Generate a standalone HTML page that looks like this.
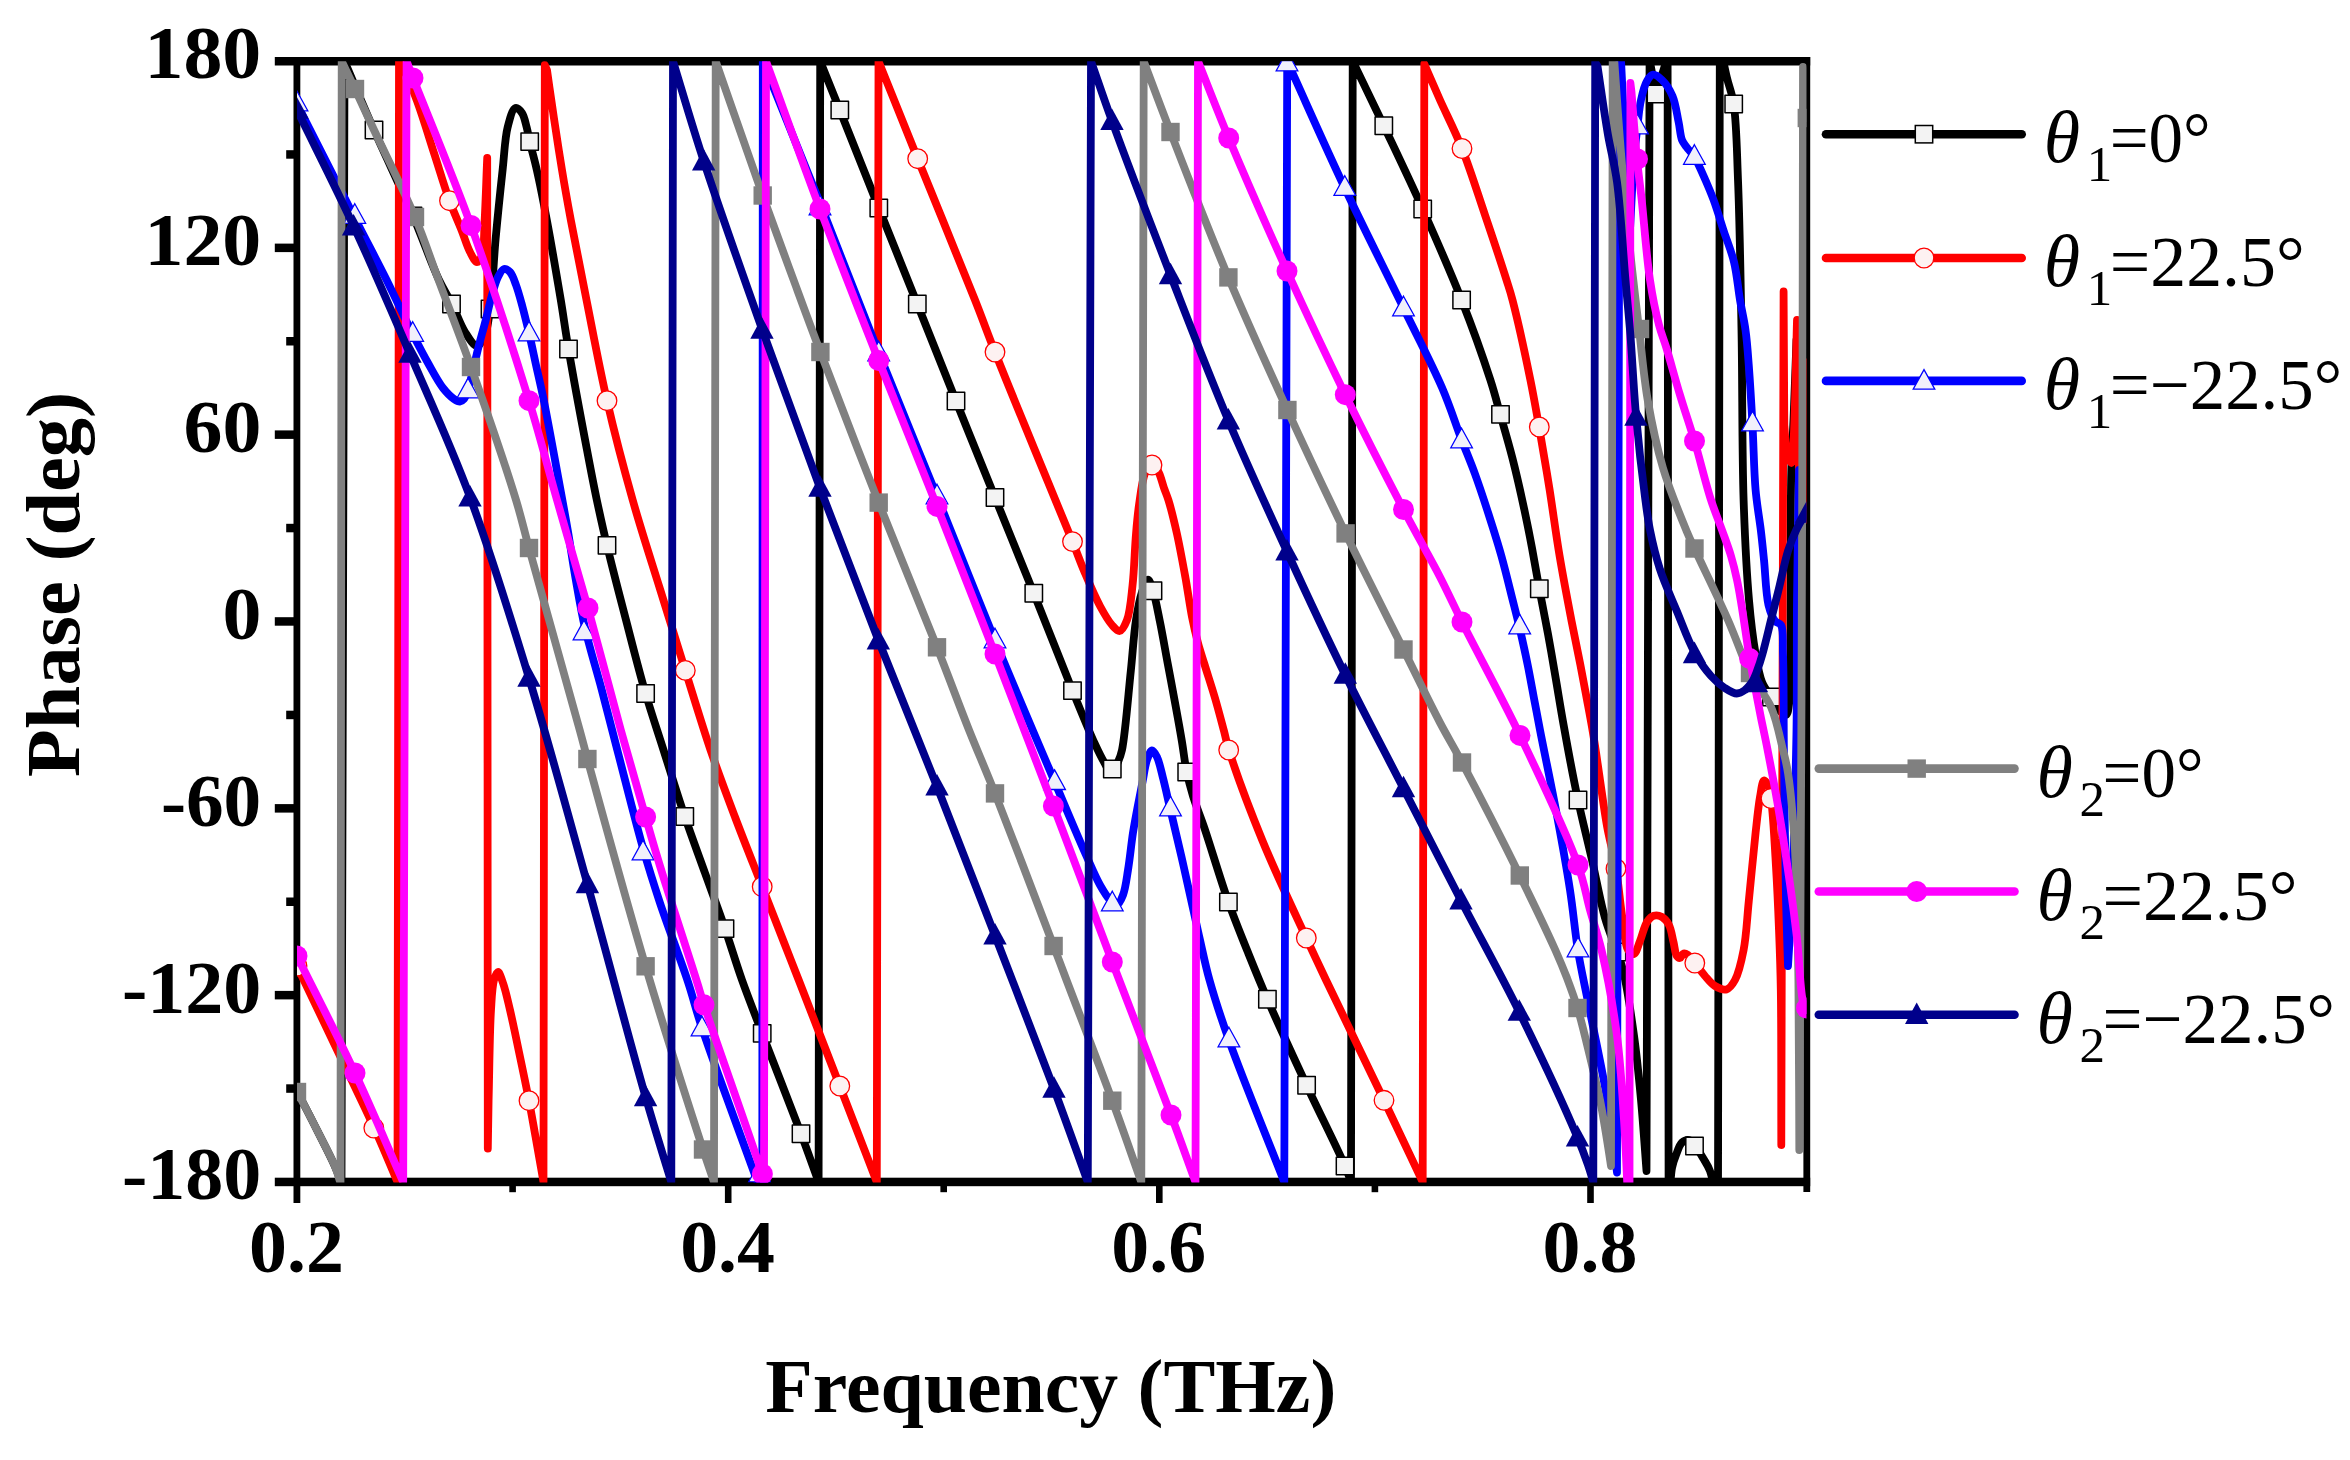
<!DOCTYPE html>
<html lang="en"><head><meta charset="utf-8"><title>Phase (deg) versus Frequency (THz)</title>
<style>html,body{margin:0;padding:0;background:#fff}body{width:2350px;height:1460px;overflow:hidden}svg{display:block}text{font-family:"Liberation Serif","DejaVu Serif",serif;fill:#000}.tk{font-weight:bold;font-size:74px}.ti{font-weight:bold;font-size:77px}.lg{font-size:72px}.th{font-style:italic;font-size:74px}.sb{font-size:51px}</style></head><body>
<svg width="2350" height="1460" viewBox="0 0 2350 1460">
<rect width="2350" height="1460" fill="#fff"/>
<defs><clipPath id="pc"><rect x="297" y="61.2" width="1509.5" height="1121.4"/></clipPath></defs>
<g fill="#000">
<rect x="274.8" y="57" width="1535.4" height="8.5"/>
<rect x="274.8" y="1177.7" width="1535.4" height="8.5"/>
<rect x="293.5" y="57" width="6.8" height="1146"/>
<rect x="1803.4" y="57" width="6.8" height="1135"/>
<rect x="286.2" y="150.2" width="11" height="8.5"/>
<rect x="274.8" y="243.6" width="22" height="8.5"/>
<rect x="286.2" y="337" width="11" height="8.5"/>
<rect x="274.8" y="430.4" width="22" height="8.5"/>
<rect x="286.2" y="523.8" width="11" height="8.5"/>
<rect x="274.8" y="617.2" width="22" height="8.5"/>
<rect x="286.2" y="710.7" width="11" height="8.5"/>
<rect x="274.8" y="804.1" width="22" height="8.5"/>
<rect x="286.2" y="897.5" width="11" height="8.5"/>
<rect x="274.8" y="990.9" width="22" height="8.5"/>
<rect x="286.2" y="1084.3" width="11" height="8.5"/>
<rect x="509.3" y="1182" width="6.6" height="10.2"/>
<rect x="724.9" y="1182" width="6.6" height="21"/>
<rect x="940.4" y="1182" width="6.6" height="10.2"/>
<rect x="1156" y="1182" width="6.6" height="21"/>
<rect x="1371.6" y="1182" width="6.6" height="10.2"/>
<rect x="1587.2" y="1182" width="6.6" height="21"/>
</g>
<g class="tk" text-anchor="end">
<text x="261.3" y="78.4" textLength="116.8" lengthAdjust="spacingAndGlyphs">180</text>
<text x="261.3" y="265.2" textLength="116.8" lengthAdjust="spacingAndGlyphs">120</text>
<text x="261.3" y="452.1" textLength="77.8" lengthAdjust="spacingAndGlyphs">60</text>
<text x="261.3" y="638.9" textLength="38.9" lengthAdjust="spacingAndGlyphs">0</text>
<text x="261.3" y="825.7" textLength="100.4" lengthAdjust="spacingAndGlyphs">-60</text>
<text x="261.3" y="1012.6" textLength="139.3" lengthAdjust="spacingAndGlyphs">-120</text>
<text x="261.3" y="1199.4" textLength="139.3" lengthAdjust="spacingAndGlyphs">-180</text>
</g>
<g class="tk" text-anchor="middle">
<text x="296.4" y="1272" textLength="94.8" lengthAdjust="spacingAndGlyphs">0.2</text>
<text x="727.6" y="1272" textLength="94.8" lengthAdjust="spacingAndGlyphs">0.4</text>
<text x="1158.7" y="1272" textLength="94.8" lengthAdjust="spacingAndGlyphs">0.6</text>
<text x="1589.9" y="1272" textLength="94.8" lengthAdjust="spacingAndGlyphs">0.8</text>
</g>
<text class="ti" text-anchor="middle" x="1050.8" y="1412" textLength="571" lengthAdjust="spacingAndGlyphs">Frequency (THz)</text>
<text class="ti" text-anchor="middle" transform="translate(79 584.5) rotate(-90)" textLength="385" lengthAdjust="spacingAndGlyphs">Phase (deg)</text>
<g clip-path="url(#pc)" fill="none" stroke-linejoin="round" stroke-linecap="round">
<path d="M297 1092C298.3 1094.3 299.3 1095.8 301 1099C304.8 1105.9 312.4 1120.9 318 1132C323.6 1143.1 330.4 1156.2 334.6 1165.6C337.6 1172.3 339.2 1177.2 341.5 1183L344.5 61.2C354.3 84.1 363.3 105.8 374 130C386 157.1 401.5 189.3 413 216C422.8 238.8 431.4 264 439 280C443.8 290.1 447.8 295.6 452 304C456.5 312.9 460.2 324.5 465 332C468.7 337.8 473.5 346.1 477 346C480 345.9 482.9 339.7 485 335C487.9 328.4 488.5 319.8 490 309C492.4 291.2 493.6 261.4 495.7 238C497.8 215.1 500.4 190.1 502.6 170C504.4 154 504.8 138.3 507.7 127C509.7 119.2 512.3 108.9 515.4 108C517.4 107.5 520.3 110.5 522 113C524.3 116.3 525.3 122.2 526.6 127C527.9 131.8 528.4 135.9 529.7 141.6C531.5 149.5 534.4 159.1 536.8 170C540.1 184.5 543.5 202.1 547 221C551.4 244.4 556.9 276.8 560.8 300C563.8 318.3 565.2 329.8 568.5 349C573.2 376.7 581.7 422.2 587 450C590.7 469.6 593.4 483.8 596.8 500C600.1 515.5 602.9 528.4 607 545.4C612.2 567.2 619.5 595.2 626 620C632.4 644.6 638.9 670.7 645.6 693.5C651.5 713.6 657.3 730.4 663.5 750C670.3 771.3 677.6 795.3 684.8 816.5C691.5 836.2 698.3 854.2 705 873C711.7 891.6 718.7 910.4 725 928.6C731 946 735.9 962.8 742 980C748.3 997.7 754.3 1012.8 762.2 1033.4C773 1061.6 790.7 1106.3 801 1133.7C808.1 1152.7 812.7 1165.9 818.6 1182L820.2 61.2C826.7 77.5 832.2 90.9 839.8 110C850.6 137 865.8 175.5 878.8 208C891.7 240.2 904.5 271.9 917.3 304C930.2 336.2 943 368.7 956 401C968.9 433.2 982 465.4 995 497.5C1007.9 529.5 1020.9 561.2 1033.8 593.3C1046.8 625.6 1061.3 663.1 1072.5 690.6C1080.8 711 1088.8 730.7 1094.8 743.7C1098.4 751.5 1100.9 756.8 1104 762C1106.5 766.2 1109.1 773.1 1111.5 773C1113.8 772.9 1116.2 765.8 1118 762C1119.7 758.2 1120.7 755.9 1122 750C1125.2 735.3 1128.3 694.5 1130.8 671C1132.8 652.2 1133.7 634.4 1136 620C1137.7 609.2 1139.5 599.3 1142 592C1143.7 586.9 1146 579.6 1147.9 579.6C1149.7 579.6 1151.4 586 1153 590.7C1155.6 598.4 1157.7 610.7 1160 622C1162.7 635.2 1165.3 650.7 1168 665C1170.7 679.3 1173.6 694.5 1176 708C1178.2 720 1180.2 731 1182 742C1183.7 752.3 1184.7 762.6 1186.7 772C1188.5 780.5 1190.4 787.5 1193 796C1196.1 806 1200 815.1 1204.4 828C1211 847.5 1220.6 880.1 1228.4 902C1234.7 919.8 1240.6 933.9 1247 950C1253.6 966.4 1259.3 980.7 1267.4 999.3C1278.2 1024.1 1293.5 1057.1 1306.6 1085.3C1319.4 1112.7 1337.9 1149.3 1345 1166C1348.1 1173.3 1349 1176.7 1351 1182L1352.7 61.2C1363.1 82.7 1372.9 102.8 1383.8 125.7C1396.1 151.7 1410 180.5 1422.7 209C1435.9 238.6 1450 270.5 1461.6 300C1472.4 327.4 1483.5 358.7 1490.4 380C1494.9 393.8 1496.9 402.4 1500.3 414.6C1504.2 428.2 1508.5 442.8 1512.4 458C1516.6 474.5 1521 494 1524.4 510C1527.3 523.6 1529.6 535.1 1532 548C1534.5 561.3 1536.7 574.9 1539.3 588.8C1542 603.5 1545.2 618.9 1548 634C1550.8 649.3 1553.4 664.7 1556 680C1558.6 695.3 1560.7 708.9 1563.8 726C1567.7 747.8 1573 776.7 1578 800C1582.5 821.1 1587.5 840.2 1592 860C1596.5 879.5 1600.2 901.4 1605 918C1608.7 931 1613.7 942.4 1617 952C1619.4 958.9 1621 962 1623 970C1626.7 984.9 1631 1013.8 1634 1035.6C1637 1057.1 1639 1078 1641 1100C1643.1 1123.1 1644.7 1147.3 1646.5 1171L1649.6 50L1650 62L1656 94L1666 62L1667.6 50L1668.6 1200L1669.5 1200C1670.3 1189.3 1670.4 1176.2 1672 1168C1673 1162.6 1674.3 1159.2 1676 1155C1677.7 1150.7 1679.3 1144.9 1682 1142.5C1684 1140.7 1686.9 1139.6 1689 1140C1691.1 1140.4 1692.6 1142.8 1694.5 1145C1697.2 1148.2 1700.4 1153.6 1703 1158C1705.5 1162.3 1708 1165.6 1710 1171C1712.8 1178.6 1714.3 1190.3 1716.5 1200L1718 1200L1719.8 50L1721 50C1723 59.3 1724.8 68.9 1727 78C1729.1 86.8 1732 93 1733.7 104C1736.6 122.6 1736.8 150.4 1738 180C1739.7 221.6 1740.6 278.4 1741.5 330C1742.5 384.9 1742 450.8 1743.6 500C1744.9 537.7 1746.5 571.8 1749 600C1750.8 620.8 1753 639 1755.6 654C1757.5 664.9 1758.9 674.3 1762 682C1764.4 688 1768 692.1 1771 697C1774 701.8 1777 707.9 1780 711C1782 713 1784.5 715.6 1786 715C1788.2 714.1 1788.6 707.3 1789.5 700C1791.7 681.5 1790.2 635.5 1790.5 600C1790.8 559.5 1790.5 503.2 1791.3 470C1791.8 449.4 1792.7 438.6 1793.5 420C1794.5 396.5 1795.5 366.7 1796.5 340" stroke="#000000" stroke-width="7.8"/>
<rect x="365.3" y="121.3" width="17.4" height="17.4" fill="#f3f3f3" stroke="#000000" stroke-width="1.5"/>
<rect x="404.3" y="207.3" width="17.4" height="17.4" fill="#f3f3f3" stroke="#000000" stroke-width="1.5"/>
<rect x="442.8" y="295.3" width="17.4" height="17.4" fill="#f3f3f3" stroke="#000000" stroke-width="1.5"/>
<rect x="481.3" y="300.3" width="17.4" height="17.4" fill="#f3f3f3" stroke="#000000" stroke-width="1.5"/>
<rect x="521" y="132.9" width="17.4" height="17.4" fill="#f3f3f3" stroke="#000000" stroke-width="1.5"/>
<rect x="559.8" y="340.3" width="17.4" height="17.4" fill="#f3f3f3" stroke="#000000" stroke-width="1.5"/>
<rect x="598.3" y="536.7" width="17.4" height="17.4" fill="#f3f3f3" stroke="#000000" stroke-width="1.5"/>
<rect x="636.9" y="684.8" width="17.4" height="17.4" fill="#f3f3f3" stroke="#000000" stroke-width="1.5"/>
<rect x="676.1" y="807.8" width="17.4" height="17.4" fill="#f3f3f3" stroke="#000000" stroke-width="1.5"/>
<rect x="716.3" y="919.9" width="17.4" height="17.4" fill="#f3f3f3" stroke="#000000" stroke-width="1.5"/>
<rect x="753.5" y="1024.7" width="17.4" height="17.4" fill="#f3f3f3" stroke="#000000" stroke-width="1.5"/>
<rect x="792.3" y="1125" width="17.4" height="17.4" fill="#f3f3f3" stroke="#000000" stroke-width="1.5"/>
<rect x="831.1" y="101.3" width="17.4" height="17.4" fill="#f3f3f3" stroke="#000000" stroke-width="1.5"/>
<rect x="870.1" y="199.3" width="17.4" height="17.4" fill="#f3f3f3" stroke="#000000" stroke-width="1.5"/>
<rect x="908.6" y="295.3" width="17.4" height="17.4" fill="#f3f3f3" stroke="#000000" stroke-width="1.5"/>
<rect x="947.3" y="392.3" width="17.4" height="17.4" fill="#f3f3f3" stroke="#000000" stroke-width="1.5"/>
<rect x="986.3" y="488.8" width="17.4" height="17.4" fill="#f3f3f3" stroke="#000000" stroke-width="1.5"/>
<rect x="1025.1" y="584.6" width="17.4" height="17.4" fill="#f3f3f3" stroke="#000000" stroke-width="1.5"/>
<rect x="1063.8" y="681.9" width="17.4" height="17.4" fill="#f3f3f3" stroke="#000000" stroke-width="1.5"/>
<rect x="1103.6" y="760.3" width="17.4" height="17.4" fill="#f3f3f3" stroke="#000000" stroke-width="1.5"/>
<rect x="1144.3" y="582" width="17.4" height="17.4" fill="#f3f3f3" stroke="#000000" stroke-width="1.5"/>
<rect x="1178" y="763.3" width="17.4" height="17.4" fill="#f3f3f3" stroke="#000000" stroke-width="1.5"/>
<rect x="1219.7" y="893.3" width="17.4" height="17.4" fill="#f3f3f3" stroke="#000000" stroke-width="1.5"/>
<rect x="1258.7" y="990.6" width="17.4" height="17.4" fill="#f3f3f3" stroke="#000000" stroke-width="1.5"/>
<rect x="1297.9" y="1076.6" width="17.4" height="17.4" fill="#f3f3f3" stroke="#000000" stroke-width="1.5"/>
<rect x="1336.3" y="1157.3" width="17.4" height="17.4" fill="#f3f3f3" stroke="#000000" stroke-width="1.5"/>
<rect x="1375.1" y="117" width="17.4" height="17.4" fill="#f3f3f3" stroke="#000000" stroke-width="1.5"/>
<rect x="1414" y="200.3" width="17.4" height="17.4" fill="#f3f3f3" stroke="#000000" stroke-width="1.5"/>
<rect x="1452.9" y="291.3" width="17.4" height="17.4" fill="#f3f3f3" stroke="#000000" stroke-width="1.5"/>
<rect x="1491.8" y="405.7" width="17.4" height="17.4" fill="#f3f3f3" stroke="#000000" stroke-width="1.5"/>
<rect x="1530.6" y="580" width="17.4" height="17.4" fill="#f3f3f3" stroke="#000000" stroke-width="1.5"/>
<rect x="1569.3" y="791.3" width="17.4" height="17.4" fill="#f3f3f3" stroke="#000000" stroke-width="1.5"/>
<rect x="1608.3" y="943.3" width="17.4" height="17.4" fill="#f3f3f3" stroke="#000000" stroke-width="1.5"/>
<rect x="1647.3" y="85.3" width="17.4" height="17.4" fill="#f3f3f3" stroke="#000000" stroke-width="1.5"/>
<rect x="1685.8" y="1137.3" width="17.4" height="17.4" fill="#f3f3f3" stroke="#000000" stroke-width="1.5"/>
<rect x="1725" y="95.3" width="17.4" height="17.4" fill="#f3f3f3" stroke="#000000" stroke-width="1.5"/>
<rect x="1762.8" y="688.3" width="17.4" height="17.4" fill="#f3f3f3" stroke="#000000" stroke-width="1.5"/>
<path d="M297 966C309.7 992.5 322.3 1018.8 335 1045.5C347.9 1072.5 362.6 1102.4 373.8 1127C382.9 1147 389.6 1163.7 397.5 1182L399 61.2C400.3 63.1 401.5 64.1 403 67C406.5 73.5 412.3 88.4 417 101C422.7 116.4 428.5 136 434 153C439.3 169.2 444.4 186.8 449.5 200.7C453.5 211.7 457.9 220.9 461.5 230C464.6 237.8 466.9 246.2 470 252C472.2 256.1 474.8 262 477 262C478.8 262 480.7 258.8 482 255.5C484.6 248.7 483.8 234.2 484.6 221C485.6 203.1 486.3 179 487.2 158L487.8 1148.6L488.6 1100C489.4 1070 489.6 1031.9 491 1010C491.8 997.3 492.1 986.7 494 980C495.1 976.4 496.6 972 498 972C499.6 972 501.4 978.4 503 983C505.5 989.9 507.6 1000 510 1010C512.9 1022.4 516 1037.5 519 1052C522.3 1067.6 525.9 1084.8 529 1100.7C531.9 1115.8 534.5 1130.9 537 1145C539.3 1157.9 541.3 1169.7 543.5 1182L544.8 65L547 70C549.3 86.2 551.5 102.1 554 118.5C556.5 135.4 559.2 152.9 562 170C564.8 187.1 567.5 202.2 571 221C575.4 244.5 580.9 272.1 586.5 300C592.8 331.5 599.3 367.4 607 400.7C614.7 434 623.6 467.9 632.7 500C641.3 530.6 651 560 660 589C668.6 616.7 676.8 643.4 685.3 670.4C693.7 697.1 701.9 724.7 710.5 750C718.5 773.4 726.5 794.5 735 817C743.7 840.1 753.5 864.5 762.2 886.7C770.1 907 778.4 928 785 945C790.1 958.1 792.9 965.2 798.7 980C808.7 1005.8 826.5 1051.5 839.8 1086C852.5 1118.8 864.5 1150 876.8 1182L878.5 61.2C891.6 93.7 903.4 123.2 917.7 158.7C935 201.5 960.9 264.4 975 300C983.5 321.5 987.1 332.1 995 352C1005.7 379.2 1021 416.2 1034 448C1046.8 479.4 1063.4 518.9 1072.5 541.6C1077.7 554.5 1080.1 561.6 1084.5 572C1089.2 583.1 1094.8 596.5 1100 606C1104 613.4 1108.1 620.7 1112 625C1114.6 627.9 1117.3 631.4 1119.6 631C1122.3 630.6 1125 625 1127 620C1130.2 611.9 1131.1 598.3 1132.5 585.6C1134.3 570.2 1134.7 548.7 1136 534C1136.9 522.9 1137.6 514.9 1139 505C1140.5 494.6 1142 480.7 1145 473C1146.9 468.1 1149.7 462 1152 462C1154.3 462 1157.1 468.9 1159 473C1161.1 477.5 1162.4 483.3 1164 488C1165.5 492.2 1166.8 494.9 1168.4 500C1171 508.4 1174.3 521.9 1177 534C1180 547.7 1182.9 563.8 1185.5 578C1187.9 591.4 1189.7 605.3 1192 617C1193.9 626.6 1195.8 634.8 1198 643C1200 650.4 1202 656.2 1204.4 664C1207.4 673.8 1211.4 685.9 1214.7 697C1218 708.2 1221.4 721.3 1224 731C1225.9 738.2 1226.2 741.4 1228.9 750C1234.9 769.1 1250.1 810.4 1262.6 841C1275.7 873 1294.5 912.4 1306.3 938C1314.1 954.9 1317.6 962.4 1326 980C1340.2 1009.8 1366.7 1064 1384 1100.3C1398.3 1130.1 1409.8 1154.8 1422.7 1182L1424.3 64L1426 68C1430.7 78.7 1434.8 88.2 1440 100C1446.5 114.5 1455 130.9 1462 148.5C1470.1 168.8 1477.5 192.9 1485 215C1492.4 236.8 1501.6 264.5 1506.5 280C1509.2 288.6 1510.2 291.1 1512.5 300C1517.1 317.7 1525.7 356.8 1530.4 380C1534 397.7 1536.1 410.2 1539.1 427C1542.5 446.4 1546.2 468.5 1549.6 489.6C1553 511.2 1555.8 533.5 1559.5 555.4C1563.2 577.4 1567.8 601.5 1571.6 621.2C1574.7 637.3 1577.7 651.2 1580.4 665C1582.8 677.3 1584.9 688.5 1587 700C1589.1 711.2 1591 721 1593 733C1595.4 747.3 1597.7 764.4 1600 780C1602.3 795.4 1604.3 811 1607 826C1609.6 840.5 1613.5 854.1 1616 868.7C1618.6 883.8 1619.8 900.7 1622 915C1623.9 927.5 1624.3 944.3 1628 950C1629.7 952.6 1632.2 954.5 1634 954C1636.5 953.3 1638 945.8 1640 941C1642.4 935.3 1644.1 926.4 1647 922C1649 919.1 1651.1 916.6 1653.7 915.8C1656.2 915 1659.6 915.7 1662 917C1664.7 918.5 1667.2 921.6 1669 925C1671.3 929.4 1672.1 936.6 1673.5 942C1674.7 946.9 1675.1 953.6 1676.8 956C1677.7 957.3 1679 958.2 1680 958C1681.3 957.8 1682.3 953.9 1683.7 953.5C1685 953.1 1686.5 954 1688 955C1690.2 956.5 1692.3 960 1694.8 963C1697.9 966.8 1701.5 972 1705 976C1708.2 979.7 1711.2 983.8 1715 986C1718.5 988.1 1723.2 990.3 1726.5 989.4C1729.9 988.4 1732.6 984.4 1735 980C1738.8 973.1 1741.4 961.3 1743.6 950C1746.4 935.8 1747 918.7 1748.8 901C1750.9 880.1 1753.5 851.8 1755.6 832.7C1757.1 818.9 1758.3 806.6 1760 797C1761.2 790.4 1762.1 781 1764 780.5C1765.1 780.2 1766.9 782.9 1768 785C1769.6 788.2 1770.1 792.2 1771 798.5C1773.1 812.5 1774.7 844.6 1776 867C1777.3 888.4 1778.2 909.3 1779 930C1779.8 950.2 1780.4 965.3 1780.8 990C1781.5 1029.6 1781.1 1093.3 1781.3 1145L1783.6 291.4L1784.3 425C1785.2 434.3 1785.2 446.1 1787 453C1788.1 457.3 1790.3 463.2 1791.4 463C1793 462.7 1792.9 450.7 1793.6 440C1795.1 415.7 1795.9 360 1797 320L1800 560L1804.5 362L1808 520" stroke="#ff0000" stroke-width="7.8"/>
<circle cx="297" cy="966" r="9.8" fill="#fdf1f1" stroke="#ff0000" stroke-width="1.3"/>
<circle cx="373.8" cy="1128" r="9.8" fill="#fdf1f1" stroke="#ff0000" stroke-width="1.3"/>
<circle cx="449.5" cy="200.7" r="9.8" fill="#fdf1f1" stroke="#ff0000" stroke-width="1.3"/>
<circle cx="529" cy="1100.7" r="9.8" fill="#fdf1f1" stroke="#ff0000" stroke-width="1.3"/>
<circle cx="607" cy="400.7" r="9.8" fill="#fdf1f1" stroke="#ff0000" stroke-width="1.3"/>
<circle cx="685.3" cy="670.4" r="9.8" fill="#fdf1f1" stroke="#ff0000" stroke-width="1.3"/>
<circle cx="762.2" cy="886.7" r="9.8" fill="#fdf1f1" stroke="#ff0000" stroke-width="1.3"/>
<circle cx="839.8" cy="1086" r="9.8" fill="#fdf1f1" stroke="#ff0000" stroke-width="1.3"/>
<circle cx="917.7" cy="158.7" r="9.8" fill="#fdf1f1" stroke="#ff0000" stroke-width="1.3"/>
<circle cx="995" cy="352" r="9.8" fill="#fdf1f1" stroke="#ff0000" stroke-width="1.3"/>
<circle cx="1072.5" cy="541.6" r="9.8" fill="#fdf1f1" stroke="#ff0000" stroke-width="1.3"/>
<circle cx="1152" cy="465" r="9.8" fill="#fdf1f1" stroke="#ff0000" stroke-width="1.3"/>
<circle cx="1228.7" cy="750" r="9.8" fill="#fdf1f1" stroke="#ff0000" stroke-width="1.3"/>
<circle cx="1306.3" cy="938" r="9.8" fill="#fdf1f1" stroke="#ff0000" stroke-width="1.3"/>
<circle cx="1384" cy="1100.3" r="9.8" fill="#fdf1f1" stroke="#ff0000" stroke-width="1.3"/>
<circle cx="1462" cy="148.5" r="9.8" fill="#fdf1f1" stroke="#ff0000" stroke-width="1.3"/>
<circle cx="1539.3" cy="427" r="9.8" fill="#fdf1f1" stroke="#ff0000" stroke-width="1.3"/>
<circle cx="1616" cy="868.7" r="9.8" fill="#fdf1f1" stroke="#ff0000" stroke-width="1.3"/>
<circle cx="1694.8" cy="963" r="9.8" fill="#fdf1f1" stroke="#ff0000" stroke-width="1.3"/>
<circle cx="1771" cy="798.5" r="9.8" fill="#fdf1f1" stroke="#ff0000" stroke-width="1.3"/>
<path d="M297 104C316.3 142 338.4 185.8 354.8 218C366.9 241.8 376.6 260 386.6 280C395.8 298.6 405 318.8 412.7 334C418.4 345.2 422.8 353.8 428 363C432.9 371.7 438 381.6 443 388C446.7 392.7 450.7 396.7 454 399C456.1 400.5 458.2 401.7 460 401.6C461.5 401.5 462.8 400.4 464 399C465.7 397 466.7 393.7 468 390C469.8 384.7 471.3 377 473 370C474.9 362.1 476.9 353.2 479 345C481.1 336.9 483.4 329.2 485.5 321C487.7 312.5 489.7 302.8 492 295C493.9 288.4 495.6 281.7 498 277C499.8 273.6 501.8 269.5 504 269C505.8 268.6 508.3 270.2 510 272C512.5 274.6 514.2 280.1 516 285C518.2 290.9 520 297.7 522 305C524.3 313.5 526.7 323.3 529 333C531.4 343.3 533.6 354.1 536 365C538.5 376.4 541 386.7 543.7 400C547.2 417.3 551.2 439.2 555 460C559.1 482.4 564.1 508.8 567.7 530C570.7 547.5 572.7 561.9 575.5 578C578.4 594.5 581 610.5 585 628C589.5 647.6 596.4 669.5 601.8 690C607.1 710.1 611.4 727.5 617.3 750C624.9 779.1 635.5 822 643.5 850C649.4 870.5 653.6 883.6 660 903C667.9 926.8 680.5 959.1 688 982C693.7 999.3 695.4 1008.3 702 1028C714.1 1064.4 739 1130.7 757.5 1182L762.3 1182L762.8 61.2C781.9 108.5 800.9 155 820 203C839.6 252.2 859 303.4 878.7 352.7C898 401.1 917.6 448.4 937 496.3C956.4 544.3 975.3 592.7 995 640.4C1014.5 687.8 1037.8 742.2 1054.6 781.6C1066.7 810.1 1077.5 836 1086 855C1091.5 867.3 1095.4 876.9 1100 885C1103.4 891 1106.6 896.6 1110 900C1112.3 902.3 1115 905.1 1117 904.7C1119.4 904.2 1121.4 899.2 1123 895C1125.5 888.8 1126.5 879.2 1128 870C1129.9 858.8 1131.2 844.2 1133 832.7C1134.6 822.8 1136.3 813.9 1138 805C1139.6 796.7 1141.2 788.7 1142.7 781C1144.1 773.8 1145 765.5 1147 760C1148.4 756.1 1150.2 750.7 1152 750.5C1153.6 750.4 1155.5 754 1157 757C1159.4 761.9 1161 770.2 1163 778C1165.5 787.5 1167.6 797.8 1170.5 810C1174.3 826.3 1179.3 847.1 1183.8 867C1188.8 888.8 1194.3 915.1 1199 935.5C1202.8 951.9 1205.1 964.2 1209.5 980C1214.7 998.6 1220.3 1015.9 1228.9 1040C1242.2 1077.5 1265.8 1134.7 1284.3 1182L1287.2 61.2C1306.4 103.5 1325.2 146.5 1344.8 188C1364 228.7 1386 272 1403.5 308C1417.8 337.3 1431.9 364 1442.2 388C1450.3 406.8 1455.6 424.1 1461.5 439.5C1466.4 452.2 1470.7 462.1 1475 474C1479.6 486.6 1483.9 499.7 1488.2 513C1492.7 527 1497.4 541.6 1501.4 556C1505.4 570.3 1509.2 586.2 1512.4 599C1515 609.3 1517 616.9 1519.4 627C1522.1 638.7 1525.2 652.6 1527.7 665C1530.1 676.9 1532.2 688.8 1534.3 700C1536.3 710.4 1537.6 717.4 1540 730C1544.1 751.2 1551.9 788 1557 815.6C1561.8 841.2 1566.4 866.4 1570 890C1573.3 911.3 1574.9 931.7 1578 951C1580.9 968.5 1584.1 982.1 1587.8 1001C1592.7 1025.8 1600.6 1061.7 1605 1087C1608.5 1106.7 1610.9 1124.5 1613 1140C1614.7 1152.2 1615.7 1161.7 1617 1172.6L1619.5 50L1620.5 50C1622 80.7 1623.6 111.7 1625 142C1626.4 171.7 1627.7 200.7 1629 230L1630 230C1631.3 206.7 1632.5 179.2 1634 160C1635.1 146.6 1636.2 136.6 1637.5 126C1638.6 116.7 1639.2 107.9 1641 100C1642.5 93.1 1644.4 85.4 1647 81C1648.7 78.1 1650.6 75 1653 74.7C1655.6 74.3 1659.2 77.3 1662 80C1665.8 83.6 1669.8 89.7 1672.5 96C1675.7 103.4 1676.9 114.1 1678.6 122C1680 128.5 1680.2 135.5 1682 140C1683.2 143 1684.7 144.5 1686.5 147C1688.7 150.1 1691.8 152.8 1694.4 157C1698.1 162.9 1702.1 172.6 1705.4 180C1708.4 186.9 1710.8 192.5 1713.6 200C1717 209.2 1720.5 221 1723.9 231.4C1727.3 241.7 1731.4 251.1 1734 262C1736.9 273.9 1738 288.1 1740 300C1741.8 310.6 1744.1 319.5 1745.5 330C1747.1 341.3 1747.8 352.2 1748.8 365.6C1750.1 382.9 1751.4 404.7 1752.5 425C1753.7 446.2 1753.9 471 1755.6 490C1756.9 505 1759.3 517.6 1760.8 530C1762.1 540.7 1762.9 549 1764 560C1765.4 573.5 1765.8 593.9 1768.5 605C1770.2 611.8 1772.3 617.7 1775 621C1776.8 623.2 1779.6 622.5 1781 625C1783.9 630 1782.5 641.5 1783 654C1783.9 676.7 1783.5 714.4 1783.9 750C1784.4 794.4 1785.1 860.1 1786 900C1786.6 926.5 1787.3 944 1788 966L1792 900C1793.5 843.3 1795.7 782.9 1796.5 730C1797.2 683.8 1796.6 643.3 1797 600C1797.4 556.7 1798.3 513.3 1799 470" stroke="#0000ff" stroke-width="7.8"/>
<polygon points="297,91.2 307.8,110.8 286.2,110.8" fill="#f1f0fb" stroke="#0000ff" stroke-width="1.3" stroke-linejoin="miter"/>
<polygon points="354.8,203.7 365.6,223.3 344,223.3" fill="#f1f0fb" stroke="#0000ff" stroke-width="1.3" stroke-linejoin="miter"/>
<polygon points="412.7,321.7 423.5,341.3 401.9,341.3" fill="#f1f0fb" stroke="#0000ff" stroke-width="1.3" stroke-linejoin="miter"/>
<polygon points="468,378.2 478.8,397.8 457.2,397.8" fill="#f1f0fb" stroke="#0000ff" stroke-width="1.3" stroke-linejoin="miter"/>
<polygon points="529,321.2 539.8,340.8 518.2,340.8" fill="#f1f0fb" stroke="#0000ff" stroke-width="1.3" stroke-linejoin="miter"/>
<polygon points="584,620.2 594.8,639.8 573.2,639.8" fill="#f1f0fb" stroke="#0000ff" stroke-width="1.3" stroke-linejoin="miter"/>
<polygon points="643,840.2 653.8,859.8 632.2,859.8" fill="#f1f0fb" stroke="#0000ff" stroke-width="1.3" stroke-linejoin="miter"/>
<polygon points="702,1016.2 712.8,1035.8 691.2,1035.8" fill="#f1f0fb" stroke="#0000ff" stroke-width="1.3" stroke-linejoin="miter"/>
<polygon points="759.5,1162.2 770.3,1181.8 748.7,1181.8" fill="#f1f0fb" stroke="#0000ff" stroke-width="1.3" stroke-linejoin="miter"/>
<polygon points="820,195.2 830.8,214.8 809.2,214.8" fill="#f1f0fb" stroke="#0000ff" stroke-width="1.3" stroke-linejoin="miter"/>
<polygon points="878.7,341.2 889.5,360.8 867.9,360.8" fill="#f1f0fb" stroke="#0000ff" stroke-width="1.3" stroke-linejoin="miter"/>
<polygon points="937,484.2 947.8,503.8 926.2,503.8" fill="#f1f0fb" stroke="#0000ff" stroke-width="1.3" stroke-linejoin="miter"/>
<polygon points="995,628.2 1005.8,647.8 984.2,647.8" fill="#f1f0fb" stroke="#0000ff" stroke-width="1.3" stroke-linejoin="miter"/>
<polygon points="1054.6,769.9 1065.4,789.5 1043.8,789.5" fill="#f1f0fb" stroke="#0000ff" stroke-width="1.3" stroke-linejoin="miter"/>
<polygon points="1112.3,891.2 1123.1,910.8 1101.5,910.8" fill="#f1f0fb" stroke="#0000ff" stroke-width="1.3" stroke-linejoin="miter"/>
<polygon points="1170.5,796.2 1181.3,815.8 1159.7,815.8" fill="#f1f0fb" stroke="#0000ff" stroke-width="1.3" stroke-linejoin="miter"/>
<polygon points="1228.9,1027.2 1239.7,1046.8 1218.1,1046.8" fill="#f1f0fb" stroke="#0000ff" stroke-width="1.3" stroke-linejoin="miter"/>
<polygon points="1287,51.2 1297.8,70.8 1276.2,70.8" fill="#f1f0fb" stroke="#0000ff" stroke-width="1.3" stroke-linejoin="miter"/>
<polygon points="1344.8,175.7 1355.6,195.3 1334,195.3" fill="#f1f0fb" stroke="#0000ff" stroke-width="1.3" stroke-linejoin="miter"/>
<polygon points="1403.5,296.2 1414.3,315.8 1392.7,315.8" fill="#f1f0fb" stroke="#0000ff" stroke-width="1.3" stroke-linejoin="miter"/>
<polygon points="1461.6,428.2 1472.4,447.8 1450.8,447.8" fill="#f1f0fb" stroke="#0000ff" stroke-width="1.3" stroke-linejoin="miter"/>
<polygon points="1519.7,614.2 1530.5,633.8 1508.9,633.8" fill="#f1f0fb" stroke="#0000ff" stroke-width="1.3" stroke-linejoin="miter"/>
<polygon points="1578,937.2 1588.8,956.8 1567.2,956.8" fill="#f1f0fb" stroke="#0000ff" stroke-width="1.3" stroke-linejoin="miter"/>
<polygon points="1637.5,114.2 1648.3,133.8 1626.7,133.8" fill="#f1f0fb" stroke="#0000ff" stroke-width="1.3" stroke-linejoin="miter"/>
<polygon points="1694.4,144.7 1705.2,164.3 1683.6,164.3" fill="#f1f0fb" stroke="#0000ff" stroke-width="1.3" stroke-linejoin="miter"/>
<polygon points="1752.5,411.2 1763.3,430.8 1741.7,430.8" fill="#f1f0fb" stroke="#0000ff" stroke-width="1.3" stroke-linejoin="miter"/>
<path d="M297 1092C298.3 1094.3 299.3 1095.8 301 1099C304.8 1105.9 312.4 1120.9 318 1132C323.6 1143.1 330.7 1156.1 334.6 1165.6C337.4 1172.2 338.5 1177.2 340.5 1183L341.7 61.2C346.1 70.5 350.2 78.8 355 89C360.8 101.3 366.4 113.8 374 130C385 153.6 403.7 190.1 415 217C424.5 239.5 430 257.3 438.5 280C448.5 306.7 459.6 334.8 471 367C485.1 406.5 505.8 466.6 516 500C522 519.9 523.2 526.9 529 548C540.3 589.2 570.3 695.4 579.7 730C583.5 743.8 583.6 744.9 587.4 759C597.7 796.6 625.8 899.5 645.6 966.3C664.3 1029.4 691.2 1113.3 703 1149.5C708 1164.8 710.3 1171.2 714 1182L715.7 61.2C731.4 106 748.5 155.9 762.7 195.5C774 227 783.6 253 793.6 280C802.8 305 809.6 323.7 820.4 352C836 393.1 859.1 453 878.7 502.6C898 551.4 920.6 605.7 937 647.3C949.4 678.6 958.8 704.3 969 730C978 752.6 984.8 767.6 995 793.4C1010.8 833.2 1041.4 914 1053.6 946C1059.2 960.6 1060.3 963.9 1065.7 978C1076.2 1005.7 1098.8 1063.9 1112.3 1100.7C1123.3 1130.5 1131.6 1154.9 1141.3 1182L1143.7 61.2C1152.6 84.8 1159.7 104.3 1170.5 132C1186 171.9 1208.5 230.2 1228.4 277.4C1247.5 322.8 1267.6 366.7 1287.4 410C1306.6 452 1326 493 1345.6 533.4C1364.7 572.8 1386.4 615.3 1403.5 649.5C1417.1 676.7 1429.2 702 1440 722.6C1448.1 738 1453.1 745.7 1462 762.5C1476.9 790.5 1503.1 841.6 1519.8 875.5C1533.3 902.8 1546.8 931 1555.3 950C1560.4 961.5 1563.3 968.5 1567 978C1570.7 987.8 1574 996.5 1577.5 1008C1582.1 1023.1 1587 1044.7 1591 1061C1594.4 1075 1597.3 1086.9 1600 1100C1602.7 1113.2 1605 1128.1 1607 1140C1608.6 1149.6 1609.7 1157.3 1611 1166L1612.7 50L1613.5 50C1616 84.2 1618.2 118.9 1621 152.7C1623.7 185.6 1626.8 219.3 1630 250C1632.9 277.7 1636 303.2 1639 328.8C1641.9 353.1 1643.7 376.6 1647.7 400C1651.7 423 1656.4 445.9 1663 468C1669.5 489.9 1681.1 517.7 1687 532C1690.1 539.4 1691.1 541.1 1694.5 548.5C1701.6 564 1718.9 599.1 1728 620C1735 636 1740.8 652.3 1745.3 662.7C1748 668.8 1749 671.5 1752 677C1756.5 685.3 1766 695.7 1771 707C1776.6 719.7 1780 737.9 1783 750C1785.2 758.8 1786.5 763 1788 773C1790.8 791.1 1793.3 821 1795 850C1797.2 887.7 1797.7 933.8 1798.4 980C1799.2 1032.9 1799 1093.3 1799.3 1150L1801.5 700C1801.8 600 1802.3 502.6 1802.5 400C1802.8 291.9 1802.8 178 1803 67L1806.5 118" stroke="#808080" stroke-width="7.8"/>
<rect x="287.8" y="1082.8" width="18.4" height="18.4" fill="#808080"/>
<rect x="345.8" y="79.8" width="18.4" height="18.4" fill="#808080"/>
<rect x="405.8" y="207.8" width="18.4" height="18.4" fill="#808080"/>
<rect x="461.8" y="357.8" width="18.4" height="18.4" fill="#808080"/>
<rect x="519.8" y="538.8" width="18.4" height="18.4" fill="#808080"/>
<rect x="578.2" y="749.8" width="18.4" height="18.4" fill="#808080"/>
<rect x="636.4" y="957.1" width="18.4" height="18.4" fill="#808080"/>
<rect x="693.8" y="1140.3" width="18.4" height="18.4" fill="#808080"/>
<rect x="753.5" y="186.3" width="18.4" height="18.4" fill="#808080"/>
<rect x="811.2" y="342.8" width="18.4" height="18.4" fill="#808080"/>
<rect x="869.5" y="493.4" width="18.4" height="18.4" fill="#808080"/>
<rect x="927.8" y="638.1" width="18.4" height="18.4" fill="#808080"/>
<rect x="985.8" y="784.2" width="18.4" height="18.4" fill="#808080"/>
<rect x="1044.4" y="936.8" width="18.4" height="18.4" fill="#808080"/>
<rect x="1103.1" y="1091.5" width="18.4" height="18.4" fill="#808080"/>
<rect x="1161.3" y="122.8" width="18.4" height="18.4" fill="#808080"/>
<rect x="1219.2" y="268.2" width="18.4" height="18.4" fill="#808080"/>
<rect x="1278.2" y="400.8" width="18.4" height="18.4" fill="#808080"/>
<rect x="1336.4" y="524.2" width="18.4" height="18.4" fill="#808080"/>
<rect x="1394.3" y="640.3" width="18.4" height="18.4" fill="#808080"/>
<rect x="1452.8" y="753.3" width="18.4" height="18.4" fill="#808080"/>
<rect x="1510.6" y="866.3" width="18.4" height="18.4" fill="#808080"/>
<rect x="1568.3" y="998.8" width="18.4" height="18.4" fill="#808080"/>
<rect x="1630.8" y="319.8" width="18.4" height="18.4" fill="#808080"/>
<rect x="1685.3" y="539.3" width="18.4" height="18.4" fill="#808080"/>
<rect x="1740.8" y="663.8" width="18.4" height="18.4" fill="#808080"/>
<rect x="1797.6" y="108.8" width="18.4" height="18.4" fill="#808080"/>
<path d="M297 956C316.3 995 337 1034.5 355 1073C372.2 1109.8 387.1 1145.7 403.2 1182L406.6 61.2C408.7 66.8 409.8 69.6 413 78C422.6 102.8 452.3 174 471 225.5C491.1 281.1 513.6 350.4 529 400.7C540.5 438.3 547.4 466.2 557 500C567 535.3 577.7 570.9 588 608C598.9 647.4 610.5 692.8 620.8 730C629.5 761.5 638.4 792.1 645.6 817C651 835.7 653.9 846.2 660 866C669.3 896.5 689.6 958.2 697 982C700.3 992.5 700.4 993.7 704 1004.8C713.9 1035.2 756.9 1155.8 762.4 1175C763.5 1178.8 763.5 1179.7 764 1182L766 61.2C784 110.5 801.4 159.5 820 209C838.9 259.3 859 310.5 878.7 360.5C898 409.6 917.7 457.6 937 506.4C956.4 555.4 975.7 604.4 995 654C1014.5 704.3 1034 755 1053.4 806C1073.1 857.6 1092.6 910.3 1112.3 962C1131.8 1013.3 1155.8 1074.3 1171 1115C1181.1 1141.8 1187.3 1159.7 1195.5 1182L1198 61.2C1208.2 86.8 1216.6 109 1228.7 138C1244.8 176.4 1267.3 227.6 1287 271C1306.2 313.1 1325.6 354.4 1345.3 394.7C1364.4 433.8 1386.2 476.4 1403.5 509.5C1416.9 535.1 1429.5 556.7 1440 577C1448.4 593.4 1452.8 603.6 1462 622C1476.6 651.3 1501.2 696.1 1520 735.4C1539.9 776.9 1566.5 832.6 1578 865C1584.6 883.5 1586 895.5 1590 910C1593.8 923.7 1597.8 934 1601.5 950C1606.9 973.1 1613.2 1007.1 1617 1035.6C1620.7 1063.7 1622.2 1092.2 1624 1120C1625.8 1147 1626.7 1173.3 1628 1200L1629.5 1200L1630.4 83L1631.5 92C1633.3 114.3 1635.1 139.4 1637 159C1638.5 174.3 1640 184.1 1641.7 200C1644.1 222.2 1646.5 257.2 1650 280C1652.6 297.2 1655.7 312.5 1659 325C1661.4 334.2 1663.8 339.3 1666.6 348.5C1670.5 361.4 1675.3 379.6 1680 395C1684.6 410.4 1689.6 424.7 1694.5 441C1700 459.4 1705.7 483.7 1711 500C1714.8 511.8 1718.6 520.3 1722 530C1725.2 539 1728.5 547.5 1731 556C1733.4 564.1 1735.3 571.9 1737 580C1738.8 588.2 1740.1 596.7 1741.5 605C1742.9 613.3 1744 621.4 1745.3 630C1746.7 639.2 1747.9 648.7 1749.6 658.4C1751.4 668.7 1753.6 679.8 1755.6 690C1757.4 699.6 1759.1 708.4 1761 718C1763.1 728.3 1765.2 737.4 1767.6 750C1771.1 768 1775.5 790.4 1779.6 815.6C1785.1 849.5 1792.7 901.6 1796.7 935.5C1799.6 960.3 1799.9 988 1802.7 1000C1803.8 1004.9 1805.2 1006.7 1806.5 1010" stroke="#ff00ff" stroke-width="7.8"/>
<circle cx="297" cy="956" r="10.5" fill="#ff00ff"/>
<circle cx="355" cy="1073" r="10.5" fill="#ff00ff"/>
<circle cx="413" cy="78" r="10.5" fill="#ff00ff"/>
<circle cx="471" cy="225.5" r="10.5" fill="#ff00ff"/>
<circle cx="529" cy="400.7" r="10.5" fill="#ff00ff"/>
<circle cx="588" cy="608" r="10.5" fill="#ff00ff"/>
<circle cx="645.6" cy="817" r="10.5" fill="#ff00ff"/>
<circle cx="704" cy="1004.8" r="10.5" fill="#ff00ff"/>
<circle cx="762.4" cy="1174" r="10.5" fill="#ff00ff"/>
<circle cx="820" cy="209" r="10.5" fill="#ff00ff"/>
<circle cx="878.7" cy="360.5" r="10.5" fill="#ff00ff"/>
<circle cx="937" cy="506.4" r="10.5" fill="#ff00ff"/>
<circle cx="995" cy="654" r="10.5" fill="#ff00ff"/>
<circle cx="1053.4" cy="806" r="10.5" fill="#ff00ff"/>
<circle cx="1112.3" cy="962" r="10.5" fill="#ff00ff"/>
<circle cx="1171" cy="1115" r="10.5" fill="#ff00ff"/>
<circle cx="1228.7" cy="138" r="10.5" fill="#ff00ff"/>
<circle cx="1287" cy="271" r="10.5" fill="#ff00ff"/>
<circle cx="1345.3" cy="394.7" r="10.5" fill="#ff00ff"/>
<circle cx="1403.5" cy="509.5" r="10.5" fill="#ff00ff"/>
<circle cx="1462" cy="622" r="10.5" fill="#ff00ff"/>
<circle cx="1520" cy="735.4" r="10.5" fill="#ff00ff"/>
<circle cx="1578" cy="865" r="10.5" fill="#ff00ff"/>
<circle cx="1637.5" cy="159" r="10.5" fill="#ff00ff"/>
<circle cx="1694.5" cy="441" r="10.5" fill="#ff00ff"/>
<circle cx="1749.6" cy="658.4" r="10.5" fill="#ff00ff"/>
<circle cx="1806.5" cy="1008" r="10.5" fill="#ff00ff"/>
<path d="M297 110C315.9 148.7 335.1 186.2 353.6 226C372.8 267.4 391.1 310.1 410 354C429.9 400.3 451.1 446.1 470 497C491 553.4 510 615.5 529 678C549.2 744.3 568.1 814.7 587.4 884C607 954.4 629.8 1042.1 645.6 1097C655.6 1131.8 662.7 1153.7 671.3 1182L673 61.2C683.2 94.5 691.4 123.5 703.7 161C719.7 209.9 742.4 273.8 762 329C781.1 382.8 800.4 435.7 820 488C839.2 539.3 858.6 589.9 878.3 640C897.7 689.4 917.6 737.4 937 786.5C956.5 835.9 975.6 885.4 995 935.5C1014.6 986.3 1037.2 1044.1 1054 1089C1067 1123.8 1076.5 1151 1087.8 1182L1091 61.2C1098 81.1 1103 96.5 1112 121C1126.4 160.5 1150.9 224.5 1170.5 275C1189.7 324.3 1208.5 373.5 1228.4 420.5C1247.4 465.5 1267.3 508.6 1287 551.5C1306.2 593.4 1325.5 634.9 1345.3 675C1364.4 713.8 1384.2 750.8 1403.5 788.5C1422.7 826 1441.7 863.2 1461 900.5C1480.3 937.7 1500.3 973.5 1519.3 1012C1539.2 1052.4 1566.2 1110.7 1577.5 1137.5C1582.7 1149.9 1585.2 1156.9 1588 1165C1590.2 1171.3 1591.5 1176.3 1593.3 1182L1595.2 62.3L1597.5 66C1601 89 1604.4 114.2 1608 135C1611 152.2 1614.4 163.4 1617 182C1620.7 208.7 1623 252 1625.5 280C1627.3 301 1628.8 314.9 1630.4 335C1632.3 359.2 1633.6 388.2 1636 415C1638.4 442.2 1642.2 475.8 1645 497C1646.8 510.5 1647.7 518.6 1650 530C1652.5 542.4 1655.5 555.5 1659.7 568.5C1664.2 582.5 1671 597 1676.8 611C1682.6 624.9 1688.1 640.8 1694.5 652.4C1699.7 661.7 1705.3 669.7 1711 676C1715.5 681 1720.1 685 1724.8 688C1728.8 690.6 1733.2 693.5 1736.8 693.5C1739.8 693.5 1742.6 691.8 1745 690C1747.7 688.1 1750 685 1752 682C1754.1 678.8 1755.4 675.1 1757 671C1758.9 666 1760.6 660.7 1762.5 654C1765.2 644.6 1768.2 631.4 1771 620C1773.9 608.6 1776.8 597.1 1779.6 585.6C1782.4 574.1 1784.8 561.1 1788 551C1790.6 542.7 1793.3 535.9 1796.7 529C1800 522.3 1804.2 516.3 1808 510" stroke="#00008b" stroke-width="7.8"/>
<polygon points="297,97.2 308.7,118.8 285.3,118.8" fill="#00008b"/>
<polygon points="353.6,213.9 365.3,235.5 341.9,235.5" fill="#00008b"/>
<polygon points="410,341.2 421.7,362.8 398.3,362.8" fill="#00008b"/>
<polygon points="470,485 481.7,506.6 458.3,506.6" fill="#00008b"/>
<polygon points="529,665.2 540.7,686.8 517.3,686.8" fill="#00008b"/>
<polygon points="587.4,871.6 599.1,893.2 575.7,893.2" fill="#00008b"/>
<polygon points="645.6,1084.7 657.3,1106.3 633.9,1106.3" fill="#00008b"/>
<polygon points="703.7,148.8 715.4,170.4 692,170.4" fill="#00008b"/>
<polygon points="762,317.2 773.7,338.8 750.3,338.8" fill="#00008b"/>
<polygon points="820,475.2 831.7,496.8 808.3,496.8" fill="#00008b"/>
<polygon points="878.3,627.9 890,649.5 866.6,649.5" fill="#00008b"/>
<polygon points="937,774 948.7,795.6 925.3,795.6" fill="#00008b"/>
<polygon points="995,923 1006.7,944.6 983.3,944.6" fill="#00008b"/>
<polygon points="1054,1076.2 1065.7,1097.8 1042.3,1097.8" fill="#00008b"/>
<polygon points="1112,108.5 1123.7,130.1 1100.3,130.1" fill="#00008b"/>
<polygon points="1170.5,262.7 1182.2,284.3 1158.8,284.3" fill="#00008b"/>
<polygon points="1228.4,407.9 1240.1,429.5 1216.7,429.5" fill="#00008b"/>
<polygon points="1287,538.9 1298.7,560.5 1275.3,560.5" fill="#00008b"/>
<polygon points="1345.3,662.2 1357,683.8 1333.6,683.8" fill="#00008b"/>
<polygon points="1403.5,775.7 1415.2,797.3 1391.8,797.3" fill="#00008b"/>
<polygon points="1461,887.9 1472.7,909.5 1449.3,909.5" fill="#00008b"/>
<polygon points="1519.3,999.2 1531,1020.8 1507.6,1020.8" fill="#00008b"/>
<polygon points="1577.5,1125 1589.2,1146.6 1565.8,1146.6" fill="#00008b"/>
<polygon points="1636,404.2 1647.7,425.8 1624.3,425.8" fill="#00008b"/>
<polygon points="1694.5,641.6 1706.2,663.2 1682.8,663.2" fill="#00008b"/>
<polygon points="1756.5,670.7 1768.2,692.3 1744.8,692.3" fill="#00008b"/>
<polygon points="1806.5,501.2 1818.2,522.8 1794.8,522.8" fill="#00008b"/>
</g>
<line x1="1826" y1="134.2" x2="2021.7" y2="134.2" stroke="#000000" stroke-width="8.6" stroke-linecap="round"/>
<rect x="1915.3" y="125.5" width="17.4" height="17.4" fill="#f3f3f3" stroke="#000000" stroke-width="1.5"/>
<text class="lg"><tspan class="th" x="2043.7" y="162.4">θ</tspan><tspan class="sb" x="2086.7" y="181.4">1</tspan><tspan x="2109.7" y="162.4" textLength="101" lengthAdjust="spacingAndGlyphs">=0°</tspan></text>
<line x1="1826" y1="258" x2="2021.7" y2="258" stroke="#ff0000" stroke-width="8.6" stroke-linecap="round"/>
<circle cx="1924" cy="258" r="9.8" fill="#fdf1f1" stroke="#ff0000" stroke-width="1.3"/>
<text class="lg"><tspan class="th" x="2043.7" y="286.2">θ</tspan><tspan class="sb" x="2086.7" y="305.2">1</tspan><tspan x="2109.7" y="286.2" textLength="195" lengthAdjust="spacingAndGlyphs">=22.5°</tspan></text>
<line x1="1826" y1="380.9" x2="2021.7" y2="380.9" stroke="#0000ff" stroke-width="8.6" stroke-linecap="round"/>
<polygon points="1924,369.6 1934.8,389.2 1913.2,389.2" fill="#f1f0fb" stroke="#0000ff" stroke-width="1.3" stroke-linejoin="miter"/>
<text class="lg"><tspan class="th" x="2043.7" y="409.1">θ</tspan><tspan class="sb" x="2086.7" y="428.1">1</tspan><tspan x="2109.7" y="409.1" textLength="232.5" lengthAdjust="spacingAndGlyphs">=−22.5°</tspan></text>
<line x1="1818.8" y1="768.6" x2="2014.5" y2="768.6" stroke="#808080" stroke-width="8.6" stroke-linecap="round"/>
<rect x="1907.5" y="759.4" width="18.4" height="18.4" fill="#808080"/>
<text class="lg"><tspan class="th" x="2036.5" y="796.8">θ</tspan><tspan class="sb" x="2079.5" y="815.8">2</tspan><tspan x="2102.5" y="796.8" textLength="101" lengthAdjust="spacingAndGlyphs">=0°</tspan></text>
<line x1="1818.8" y1="891.5" x2="2014.5" y2="891.5" stroke="#ff00ff" stroke-width="8.6" stroke-linecap="round"/>
<circle cx="1916.7" cy="891.5" r="10.5" fill="#ff00ff"/>
<text class="lg"><tspan class="th" x="2036.5" y="919.7">θ</tspan><tspan class="sb" x="2079.5" y="938.7">2</tspan><tspan x="2102.5" y="919.7" textLength="195" lengthAdjust="spacingAndGlyphs">=22.5°</tspan></text>
<line x1="1818.8" y1="1014.7" x2="2014.5" y2="1014.7" stroke="#00008b" stroke-width="8.6" stroke-linecap="round"/>
<polygon points="1916.7,1002.4 1928.4,1024 1905,1024" fill="#00008b"/>
<text class="lg"><tspan class="th" x="2036.5" y="1042.9">θ</tspan><tspan class="sb" x="2079.5" y="1061.9">2</tspan><tspan x="2102.5" y="1042.9" textLength="232.5" lengthAdjust="spacingAndGlyphs">=−22.5°</tspan></text>
</svg></body></html>
